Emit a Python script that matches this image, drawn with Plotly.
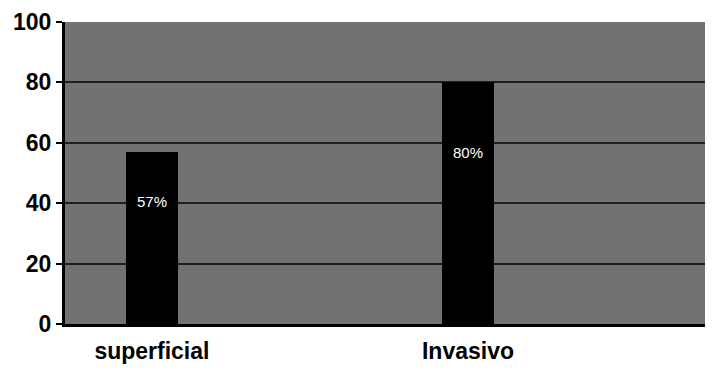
import plotly.graph_objects as go

categories = ["superficial", "Invasivo"]
values = [57, 80]
labels = ["57%", "80%"]
y_ticks = [0, 20, 40, 60, 80, 100]

fig = go.Figure()
fig.add_trace(go.Bar(
    x=categories, y=values, width=0.165,
    marker=dict(color="#000000", line=dict(width=0)),
    hoverinfo="skip",
))

for c, v, t in zip(categories, values, labels):
    fig.add_annotation(x=c, y=v * 0.71, text=t, showarrow=False,
                       font=dict(family="Liberation Sans, Arial", size=15, color="#ffffff"))

fig.update_layout(
    width=697, height=356,
    margin=dict(l=57, r=0, t=14, b=38),
    paper_bgcolor="#ffffff",
    plot_bgcolor="#727272",
    showlegend=False,
    bargap=0,
)
fig.update_xaxes(
    range=[-0.275, 1.75],
    showline=True, linecolor="#000000", linewidth=3,
    showgrid=False, ticks="",
    tickfont=dict(family="Liberation Sans, Arial", size=23, color="#000000", weight="bold"),
    ticklabelstandoff=4,
)
fig.update_yaxes(
    range=[0, 100], tickvals=y_ticks,
    showline=True, linecolor="#000000", linewidth=3,
    ticks="outside", ticklen=6, tickwidth=2, tickcolor="#000000",
    showgrid=True, gridcolor="#1e1e1e", gridwidth=2,
    zeroline=False,
    tickfont=dict(family="Liberation Sans, Arial", size=23, color="#000000", weight="bold"),
)

fig.write_html("out.html")
